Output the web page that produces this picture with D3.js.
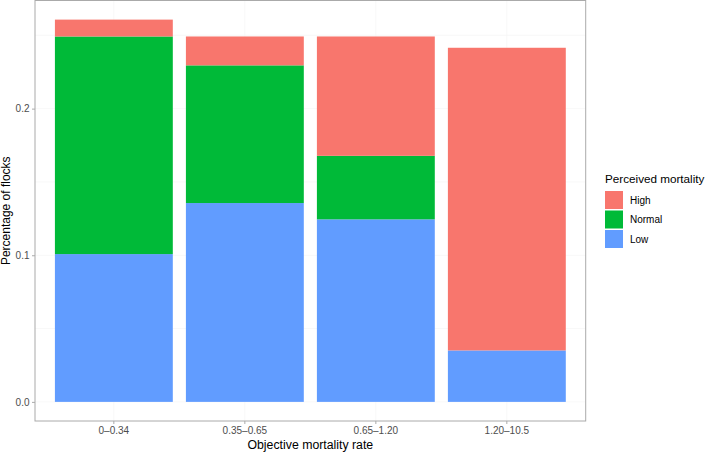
<!DOCTYPE html>
<html>
<head>
<meta charset="utf-8">
<script src="https://cdn.jsdelivr.net/npm/d3@7"></script>
<style>
  html, body { margin: 0; padding: 0; background: #fff; }
  svg { display: block; font-family: "Liberation Sans", Arial, Helvetica, sans-serif; }
</style>
</head>
<body>
<svg id="chart" width="709" height="452"></svg>
<script>
// ---- data ----
const categories = ["0\u20130.34", "0.35\u20130.65", "0.65\u20131.20", "1.20\u201310.5"];
const seriesNames = ["Low", "Normal", "High"];          // stacking order, bottom -> top
const legendOrder = ["High", "Normal", "Low"];
const lowValues    = [0.1008, 0.1356, 0.1245, 0.0351];
const normalValues = [0.1484, 0.0939, 0.0433, 0.0000];
const highValues   = [0.0115, 0.0197, 0.0814, 0.2064];
const yTicks = [0.0, 0.1, 0.2];
const yMinorTicks = [0.05, 0.15, 0.25];
const xTitle = "Objective mortality rate";
const yTitle = "Percentage of flocks";
const legendTitle = "Perceived mortality";

const colors = { High: "#F8766D", Normal: "#00BA38", Low: "#619CFF" };

// ---- layout ----
const panel = { left: 35, right: 585.7, top: 0.5, bottom: 421 };
const svg = d3.select("#chart");

const rows = categories.map((c, i) => ({
  category: c, Low: lowValues[i], Normal: normalValues[i], High: highValues[i]
}));
const stacked = d3.stack().keys(seriesNames)(rows);
const maxTotal = d3.max(rows, d => d.Low + d.Normal + d.High);
const expand = 0.05 * maxTotal;

const x = d3.scaleBand()
  .domain(categories)
  .range([panel.left, panel.right])
  .paddingInner(0.1)
  .paddingOuter(0.152);

const y = d3.scaleLinear()
  .domain([-expand, maxTotal + expand])
  .range([panel.bottom, panel.top]);

// panel background + grid
const gridColor = "#f6f6f6";
svg.append("rect")
  .attr("x", panel.left).attr("y", panel.top)
  .attr("width", panel.right - panel.left).attr("height", panel.bottom - panel.top)
  .attr("fill", "#fff");

svg.append("g").selectAll("line").data(yMinorTicks.concat(yTicks)).join("line")
  .attr("x1", panel.left).attr("x2", panel.right)
  .attr("y1", d => y(d)).attr("y2", d => y(d))
  .attr("stroke", gridColor).attr("stroke-width", 0.8);
svg.append("g").selectAll("line").data(categories).join("line")
  .attr("y1", panel.top).attr("y2", panel.bottom)
  .attr("x1", d => x(d) + x.bandwidth() / 2).attr("x2", d => x(d) + x.bandwidth() / 2)
  .attr("stroke", gridColor).attr("stroke-width", 0.8);

// bars
svg.append("g").selectAll("g").data(stacked).join("g")
  .attr("fill", s => colors[s.key])
  .selectAll("rect").data(s => s).join("rect")
  .attr("x", d => x(d.data.category))
  .attr("width", x.bandwidth())
  .attr("y", d => y(d[1]))
  .attr("height", d => Math.max(0, y(d[0]) - y(d[1])));

// panel border
svg.append("rect")
  .attr("x", panel.left).attr("y", panel.top)
  .attr("width", panel.right - panel.left).attr("height", panel.bottom - panel.top)
  .attr("fill", "none").attr("stroke", "#aaaaaa").attr("stroke-width", 1);

// axes
const axisColor = "#aaaaaa";
const textColor = "#4d4d4d";

const yAxis = svg.append("g")
  .attr("transform", `translate(${panel.left},0)`)
  .call(d3.axisLeft(y).tickValues(yTicks).tickFormat(d3.format(".1f")).tickSize(3).tickPadding(2.5));
yAxis.select(".domain").remove();
yAxis.selectAll(".tick line").attr("stroke", axisColor);
yAxis.selectAll(".tick text").attr("fill", textColor).attr("font-size", 10)
  .attr("font-family", "Liberation Sans, Arial, sans-serif");

const xAxis = svg.append("g")
  .attr("transform", `translate(0,${panel.bottom})`)
  .call(d3.axisBottom(x).tickSize(3).tickPadding(3.2));
xAxis.select(".domain").remove();
xAxis.selectAll(".tick line").attr("stroke", axisColor);
xAxis.selectAll(".tick text").attr("fill", textColor).attr("font-size", 10)
  .attr("font-family", "Liberation Sans, Arial, sans-serif");

// axis titles
svg.append("text")
  .attr("x", (panel.left + panel.right) / 2).attr("y", 448.5)
  .attr("text-anchor", "middle").attr("font-size", 12.3).attr("fill", "#000")
  .text(xTitle);

svg.append("text")
  .attr("transform", `translate(10,${(panel.top + panel.bottom) / 2}) rotate(-90)`)
  .attr("text-anchor", "middle").attr("font-size", 12).attr("fill", "#000")
  .text(yTitle);

// legend
const legend = svg.append("g");
legend.append("text")
  .attr("x", 605).attr("y", 182.5)
  .attr("font-size", 11.7).attr("fill", "#000")
  .text(legendTitle);

const keyStep = 19.5, keyTop = 191, keySize = 18;
const items = legend.selectAll("g.item").data(legendOrder).join("g")
  .attr("class", "item")
  .attr("transform", (d, i) => `translate(605,${keyTop + i * keyStep})`);
items.append("rect")
  .attr("width", keySize).attr("height", keySize)
  .attr("fill", d => colors[d]);
items.append("text")
  .attr("x", 25).attr("y", keySize / 2).attr("dy", "0.35em")
  .attr("font-size", 10).attr("fill", "#000")
  .text(d => d);
</script>
</body>
</html>
